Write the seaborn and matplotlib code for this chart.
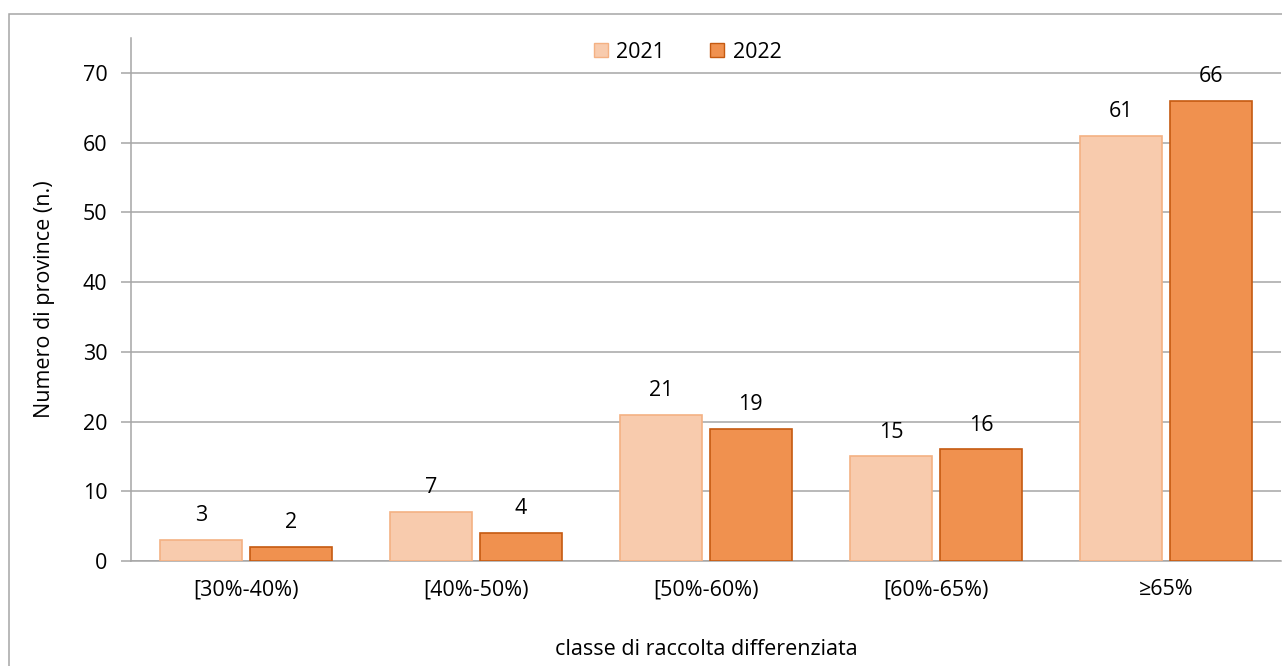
"""
Numero di province per classe di raccolta differenziata, 2021 vs 2022.
"""

import numpy as np
import pandas as pd
import matplotlib
matplotlib.use("Agg")
import matplotlib.pyplot as plt
import seaborn as sns
from matplotlib.patches import Rectangle

# Data
classes = ['[30%-40%)', '[40%-50%)', '[50%-60%)', '[60%-65%)', '≥65%']
years = ['2021', '2022']
values_2021 = [3, 7, 21, 15, 61]
values_2022 = [2, 4, 19, 16, 66]
y_ticks = [0, 10, 20, 30, 40, 50, 60, 70]

fill_colors = ['#F8CBAD', '#F0914F']
edge_colors = ['#F4B183', '#C55A11']
grid_color = '#A6A6A6'
fs = 15.5

sns.set_style("white")
plt.rcParams['font.family'] = ['Open Sans', 'DejaVu Sans']
plt.rcParams['text.color'] = 'black'
plt.rcParams['axes.labelcolor'] = 'black'
plt.rcParams['xtick.color'] = 'black'
plt.rcParams['ytick.color'] = 'black'

df = pd.DataFrame({
    'classe': classes * 2,
    'anno': [years[0]] * len(classes) + [years[1]] * len(classes),
    'n': values_2021 + values_2022,
})

fig = plt.figure(figsize=(12.82, 6.66), dpi=100)
ax = fig.add_axes([131 / 1282, 1 - 561 / 666, 1150 / 1282, 523 / 666])

sns.barplot(data=df, x='classe', y='n', hue='anno', order=classes,
            hue_order=years, palette=fill_colors, width=0.78, gap=0.09,
            ax=ax, zorder=3, saturation=1)

# Edge colors per series and value labels
for container, ec in zip(ax.containers, edge_colors):
    for bar in container:
        bar.set_edgecolor(ec)
        bar.set_linewidth(1.2)
    ax.bar_label(container, fmt='%d', padding=10, fontsize=fs, color='black')

ax.set_ylim(0, 75)
ax.set_xlim(-0.5, len(classes) - 0.5)
ax.set_yticks(y_ticks)
ax.yaxis.grid(True, color=grid_color, linewidth=1.1, zorder=0)
ax.set_axisbelow(True)

# Category boundaries as minor ticks
ax.set_xticks(np.arange(-0.5, len(classes)), minor=True)
ax.tick_params(axis='x', which='major', length=0, pad=13, labelsize=fs)
ax.tick_params(axis='x', which='minor', length=7, color=grid_color, width=1.1)
ax.tick_params(axis='y', length=7, color=grid_color, width=1.1, pad=10,
               labelsize=fs, left=True, labelcolor='black')
ax.tick_params(axis='x', labelcolor='black')

for side in ['top', 'right']:
    ax.spines[side].set_visible(False)
for side in ['left', 'bottom']:
    ax.spines[side].set_color(grid_color)
    ax.spines[side].set_linewidth(1.1)

ax.set_xlabel('classe di raccolta differenziata', fontsize=fs, labelpad=28)
ax.set_ylabel('Numero di province (n.)', fontsize=fs, labelpad=20)

leg = ax.legend(loc='center', bbox_to_anchor=(0.484, 0.973), ncol=2,
                frameon=False, fontsize=fs, handlelength=0.65,
                handleheight=0.65, handletextpad=0.4, columnspacing=2.1)
for handle, ec in zip(leg.legend_handles, edge_colors):
    handle.set_edgecolor(ec)

# Outer frame
fig.patches.append(Rectangle((9 / 1282, -0.1), 1.2, 1.1 - 14 / 666,
                             transform=fig.transFigure, fill=False,
                             edgecolor=grid_color, linewidth=1.1))

fig.savefig('out.png', dpi=100)
